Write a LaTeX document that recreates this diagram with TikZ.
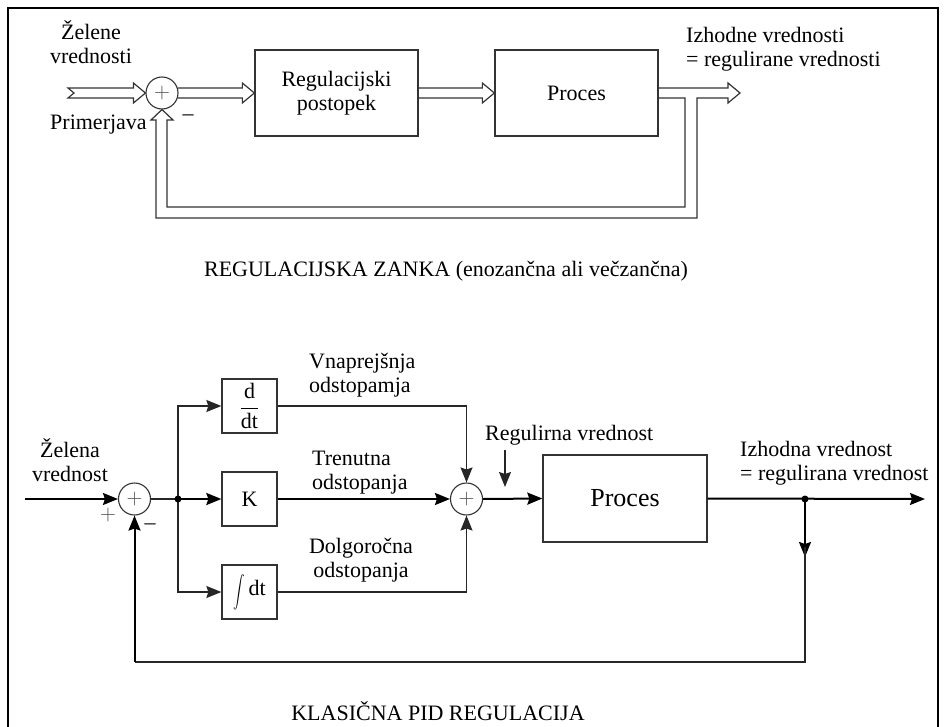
\RequirePackage{fix-cm}
\documentclass[tikz,border=0pt]{standalone}
\usepackage{graphicx}
\usepackage{fontspec}
\setmainfont{Liberation Serif}
\usetikzlibrary{arrows.meta,calc}
\begin{document}
\begin{tikzpicture}[x=1pt,y=-1pt,
  every node/.style={font=\fontsize{22}{24}\selectfont, inner sep=0pt},
  blk/.style={draw=black!80, line width=1.3pt, fill=white},
  sumnode/.style={circle, draw=black!80, line width=1.1pt, minimum size=32pt, inner sep=0pt, text=black!70},
  sigthin/.style={draw=black!85, line width=1.2pt},
  sigbold/.style={draw=black, line width=2pt},
  tip/.style={-{Stealth[length=15pt,width=12pt,inset=2pt]}},
  dbl/.style={draw=black!80, line width=1.2pt, line join=miter}
]
\useasboundingbox (0,0) rectangle (949,727);

% open frame
\draw[line width=2pt] (8,727) -- (8,8) -- (938,8) -- (938,727);

% ---------- control loop ----------
\coordinate (in0) at (68,93);
\node[sumnode] (s0) at (162,93) {$+$};
\node[blk, minimum width=163pt, minimum height=86pt, align=center] (reg) at (336.5,93) {Regulacijski\\postopek};
\node[blk, minimum width=163pt, minimum height=86pt] (proc0) at (576.5,93) {Proces};
\coordinate (out0) at (740,93);

% hollow arrows
\draw[dbl] ($(in0)+(0,-5)$) -- ($(s0.west)+(-12,-5)$) -- ($(s0.west)+(-12,-10)$) -- (s0.west)
  -- ($(s0.west)+(-12,10)$) -- ($(s0.west)+(-12,5)$) -- ($(in0)+(0,5)$) -- ($(in0)+(6,0)$) -- cycle;
\draw[dbl] ($(s0.east)+(-1,-5)$) -- ($(reg.west)+(-12,-5)$) -- ($(reg.west)+(-12,-10)$) -- (reg.west)
  -- ($(reg.west)+(-12,10)$) -- ($(reg.west)+(-12,5)$) -- ($(s0.east)+(-1,5)$);
\draw[dbl] ($(reg.east)+(0,-5)$) -- ($(proc0.west)+(-12,-5)$) -- ($(proc0.west)+(-12,-10)$) -- (proc0.west)
  -- ($(proc0.west)+(-12,10)$) -- ($(proc0.west)+(-12,5)$) -- ($(reg.east)+(0,5)$);
% output arrow with the hollow feedback path back to the comparator
\draw[dbl] ($(proc0.east)+(0,-5)$) -- ($(out0)+(-12,-5)$) -- ($(out0)+(-12,-10)$) -- (out0)
  -- ($(out0)+(-12,10)$) -- ($(out0)+(-12,5)$) -- (697,98) -- (697,218) -- (156,218) -- (156,120)
  -- (151,120) -- (s0.south) -- (173,120) -- (167,120) -- (167,207) -- (685,207) -- (685,98)
  -- ($(proc0.east)+(0,5)$);

\node[align=center, anchor=base] (want0) at (91,64) {Želene\\vrednosti};
\node[anchor=base west] (cmp0) at (50,130) {Primerjava};
\node (minus0) at (188,118) {–};
\node[align=left, anchor=base west] (outl0) at (686,67) {Izhodne vrednosti\\= regulirane vrednosti};
\node[anchor=base] (cap0) at (446,276) {REGULACIJSKA ZANKA (enozančna ali večzančna)};

% ---------- PID ----------
\coordinate (in1) at (25,499);
\node[sumnode] (s1) at (134.5,499) {$+$};
\coordinate (br) at (178,499);
\node[blk, minimum width=55pt, minimum height=54pt] (kd) at (249.5,406) {$\displaystyle\frac{\hbox{d}}{\hbox{dt}}$};
\node[blk, minimum width=55pt, minimum height=54pt] (kp) at (249.5,499) {K};
\node[blk, minimum width=55pt, minimum height=54pt] (ki) at (249.5,592) {\raisebox{-0.5ex}{\scalebox{1.15}[1.6]{$\displaystyle\int$}}\hspace{4pt}dt};
\node[sumnode] (s2) at (466.5,499) {$+$};
\node[blk, minimum width=164pt, minimum height=87pt, font=\fontsize{26}{28}\selectfont] (proc1) at (625,498.5) {Proces};
\coordinate (dot2) at (805,499);
\coordinate (out1) at (925,499);
\coordinate (fbk) at (805,557);
\coordinate (fbr) at (805,662);
\coordinate (fbl) at (134.5,662);
\coordinate (rv0) at (505,450);
\coordinate (rv1) at (505,487);

\draw[sigbold, tip] (in1) -- (s1.west);
\draw[sigthin] (s1.east) -- (br);
\draw[sigbold, tip] (br) -- (kp.west);
\draw[sigthin, tip] (br) |- (kd.west);
\draw[sigthin, tip] (br) |- (ki.west);
\draw[sigbold, tip] (kp.east) -- (s2.west);
\draw[sigthin, tip] (kd.east) -| (s2.north);
\draw[sigthin, tip] (ki.east) -| (s2.south);
\draw[sigbold, tip] (s2.east) -- (proc1.west);
\draw[sigbold, tip] (proc1.east) -- (out1);
\draw[sigbold, tip] (dot2) -- (fbk);
\draw[sigthin] ($(fbk)+(0,-10)$) -- (fbr) -- (fbl);
\draw[sigbold, tip] (fbl) -- (s1.south);
\draw[sigthin, tip] (rv0) -- (rv1);
\fill (br) circle (3.5);
\fill (dot2) circle (3.5);

\node (plus1) at (108,515) {\color{black!70}$+$};
\node (minus1) at (150,527) {–};
\node[align=center, anchor=base] (want1) at (70,481) {Želena\\vrednost};
\node[align=left, anchor=base west] (dlab) at (309,392) {Vnaprejšnja\\odstopamja};
\node[align=left, anchor=base west] (plab) at (312,489) {Trenutna\\odstopanja};
\node[align=center, anchor=base] (ilab) at (361,577) {Dolgoročna\\odstopanja};
\node[anchor=base west] (rlab) at (485,440) {Regulirna vrednost};
\node[align=left, anchor=base west] (outl1) at (740,480) {Izhodna vrednost\\= regulirana vrednost};
\node[anchor=base] (cap1) at (438,720) {KLASIČNA PID REGULACIJA};
\end{tikzpicture}
\end{document}
